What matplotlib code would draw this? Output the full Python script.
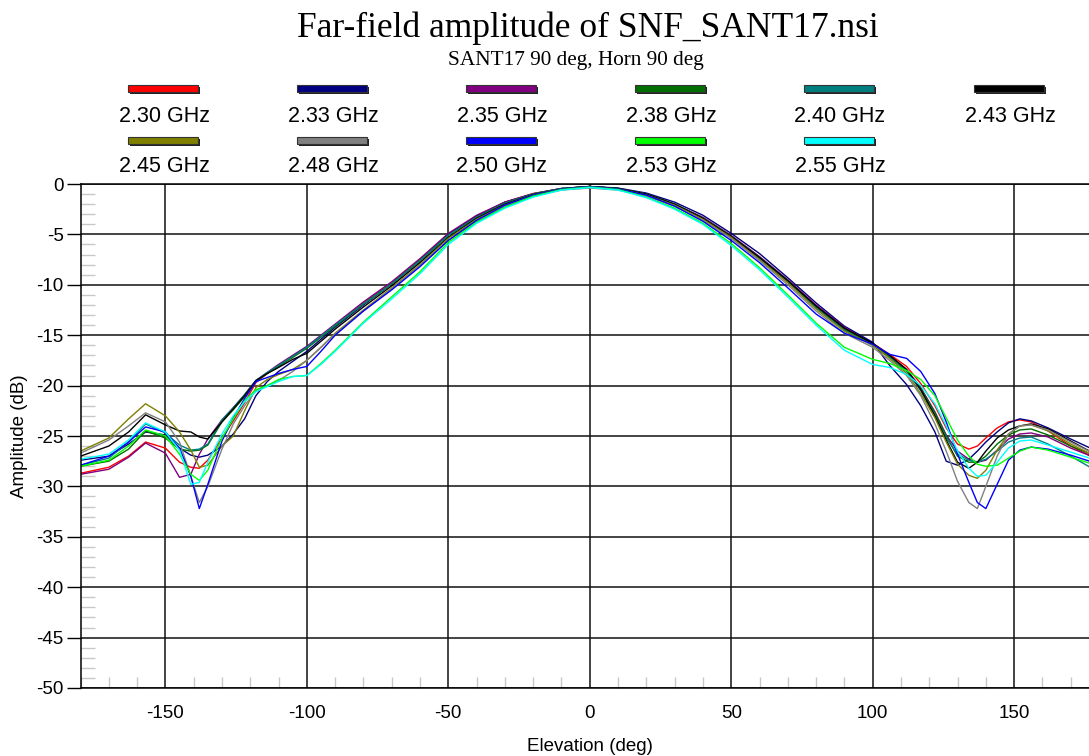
import matplotlib
matplotlib.use("Agg")
import matplotlib.pyplot as plt
from matplotlib.patches import Rectangle
from matplotlib.ticker import MultipleLocator

# elevation samples (deg)
angles = [-180, -170, -163, -157, -150, -145, -141, -138, -135, -130, -126, -122,
          -118, -114, -110, -105, -100, -95, -90, -80, -70, -60, -50, -40, -30,
          -20, -10, 0, 10, 20, 30, 40, 50, 60, 70, 80, 90, 100, 106, 112, 117,
          122, 126, 130, 134, 137, 140, 144, 148, 152, 156, 162, 170, 180]

amp_230 = [-28.7, -28.1, -27.0, -25.6, -26.2, -27.6, -28.1, -28.2, -27.4, -25.2, -23.5, -21.7,
           -19.7, -18.8, -18.0, -17.1, -16.2, -15.1, -14.0, -11.8, -9.8, -7.5, -5.0, -3.2, -1.8,
           -0.95, -0.45, -0.25, -0.45, -1.0, -2.0, -3.4, -5.2, -7.3, -9.6, -12.1, -14.3, -15.8, -16.9, -18.1, -19.8,
           -22.0, -24.2, -25.8, -26.3, -26.0, -25.2, -24.2, -23.6, -23.4, -23.6, -24.5, -26.0, -27.4]
amp_233 = [-27.4, -27.0, -25.8, -24.6, -24.9, -26.2, -26.9, -27.1, -26.9, -26.0, -24.8, -23.3,
           -21.0, -19.6, -18.6, -17.6, -16.6, -15.4, -14.2, -12.0, -9.9, -7.6, -5.0, -3.2, -1.8,
           -1.0, -0.45, -0.25, -0.4, -0.9, -1.8, -3.1, -4.9, -6.9, -9.3, -11.8, -14.1, -15.7, -18.0, -19.9, -22.0,
           -24.6, -27.5, -27.9, -27.3, -26.5, -25.6, -24.6, -23.7, -23.3, -23.5, -24.2, -25.3, -26.6]
amp_235 = [-28.8, -28.3, -27.1, -25.7, -26.7, -29.1, -28.8, -26.8, -25.3, -23.4, -22.2, -20.9,
           -19.5, -18.7, -17.9, -17.0, -16.1, -15.0, -13.9, -11.7, -9.7, -7.4, -4.9, -3.1, -1.8,
           -0.95, -0.45, -0.25, -0.45, -1.0, -2.0, -3.3, -5.1, -7.2, -9.5, -12.0, -14.2, -15.9, -17.0, -18.4, -20.2,
           -22.6, -24.9, -26.5, -27.3, -27.6, -27.4, -26.4, -25.3, -24.8, -24.7, -25.1, -26.2, -27.3]
amp_238 = [-28.0, -27.5, -26.3, -24.5, -25.2, -26.3, -26.5, -26.4, -25.9, -23.6, -22.4, -21.1,
           -19.6, -18.8, -18.1, -17.2, -16.3, -15.2, -14.1, -11.9, -9.9, -7.6, -5.1, -3.3, -1.9,
           -1.0, -0.45, -0.25, -0.45, -1.0, -2.0, -3.4, -5.2, -7.3, -9.6, -12.2, -14.4, -15.9, -17.1, -18.5, -20.3,
           -22.7, -25.0, -27.0, -27.6, -27.6, -27.0, -25.8, -24.9, -24.4, -24.3, -24.9, -26.0, -27.1]
amp_240 = [-27.9, -27.2, -25.6, -23.8, -24.7, -25.9, -26.4, -26.3, -25.8, -23.4, -22.2, -20.9,
           -19.5, -18.7, -18.0, -17.1, -16.2, -15.1, -14.0, -11.9, -9.9, -7.6, -5.1, -3.3, -1.9,
           -1.0, -0.45, -0.25, -0.45, -1.0, -2.0, -3.4, -5.2, -7.4, -9.7, -12.3, -14.5, -16.0, -17.2, -18.6, -20.5,
           -23.0, -25.2, -26.8, -27.4, -27.6, -27.3, -26.5, -25.6, -25.2, -25.1, -25.8, -27.0, -28.6]
amp_243 = [-27.0, -26.0, -24.6, -22.9, -23.9, -24.5, -24.6, -25.1, -25.3, -23.6, -22.3, -21.0,
           -19.5, -18.8, -18.2, -17.4, -16.8, -15.6, -14.4, -12.2, -10.1, -7.8, -5.3, -3.4, -2.0,
           -1.05, -0.5, -0.25, -0.45, -1.0, -2.0, -3.4, -5.2, -7.3, -9.6, -12.1, -14.3, -15.8, -17.0, -18.4, -20.4,
           -23.0, -25.4, -27.6, -28.2, -27.6, -26.5, -25.2, -24.4, -24.0, -23.8, -24.3, -25.5, -27.0]
amp_245 = [-26.5, -25.2, -23.3, -21.8, -23.0, -24.6, -26.4, -28.1, -27.9, -26.0, -25.0, -22.5,
           -20.2, -19.4, -18.9, -18.4, -17.5, -16.2, -14.8, -12.5, -10.3, -8.0, -5.4, -3.5, -2.1,
           -1.1, -0.5, -0.3, -0.5, -1.1, -2.1, -3.5, -5.3, -7.5, -9.8, -12.4, -14.6, -16.0, -17.3, -18.8, -20.8,
           -23.2, -25.6, -27.8, -28.9, -29.2, -28.4, -26.4, -24.8, -24.0, -23.9, -24.5, -25.8, -27.2]
amp_248 = [-26.7, -25.4, -24.0, -22.7, -23.6, -25.6, -29.0, -31.6, -30.0, -26.3, -23.8, -22.0,
           -20.5, -20.0, -19.5, -18.6, -17.5, -16.2, -14.9, -12.6, -10.4, -8.1, -5.6, -3.7, -2.2,
           -1.2, -0.6, -0.4, -0.6, -1.2, -2.2, -3.6, -5.4, -7.6, -10.0, -12.6, -14.8, -16.2, -17.5, -19.0, -21.0,
           -23.8, -26.5, -29.5, -31.6, -32.2, -30.0, -27.0, -24.8, -24.0, -23.9, -24.4, -25.6, -27.0]
amp_250 = [-27.9, -27.0, -25.6, -24.1, -24.6, -26.2, -29.0, -32.2, -29.8, -25.5, -23.2, -21.3,
           -19.6, -19.2, -18.8, -18.4, -18.1, -16.6, -15.0, -12.6, -10.5, -8.2, -5.6, -3.6, -2.1,
           -1.1, -0.5, -0.25, -0.5, -1.1, -2.2, -3.7, -5.6, -7.8, -10.3, -12.9, -14.8, -15.9, -16.9, -17.3, -18.6,
           -20.8, -23.6, -26.8, -29.6, -31.6, -32.2, -29.8, -27.4, -26.4, -26.1, -26.3, -26.9, -27.8]
amp_253 = [-28.0, -27.4, -26.0, -24.4, -25.0, -26.8, -28.8, -29.4, -28.4, -25.2, -23.3, -21.5,
           -20.4, -20.0, -19.4, -19.1, -19.0, -17.8, -16.5, -13.7, -11.2, -8.7, -5.8, -3.8, -2.3,
           -1.2, -0.55, -0.3, -0.55, -1.3, -2.4, -3.9, -5.9, -8.3, -11.0, -13.8, -16.2, -17.4, -17.8, -18.5, -19.4,
           -21.0, -23.2, -25.4, -27.0, -27.8, -28.0, -27.9, -27.2, -26.5, -26.1, -26.4, -27.1, -28.0]
amp_255 = [-27.3, -26.8, -25.4, -23.7, -24.6, -26.4, -29.8, -29.6, -27.6, -24.8, -23.0, -21.6,
           -20.6, -20.1, -19.6, -19.1, -19.0, -17.9, -16.6, -13.8, -11.4, -8.9, -6.0, -3.9, -2.4,
           -1.3, -0.6, -0.35, -0.6, -1.35, -2.5, -4.0, -6.1, -8.5, -11.2, -14.0, -16.5, -17.9, -18.2, -18.9, -20.0,
           -21.8, -24.0, -26.5, -28.2, -29.0, -28.9, -27.6, -26.2, -25.5, -25.4, -25.9, -26.6, -27.5]

freq_labels = ["2.30 GHz", "2.33 GHz", "2.35 GHz", "2.38 GHz", "2.40 GHz", "2.43 GHz",
               "2.45 GHz", "2.48 GHz", "2.50 GHz", "2.53 GHz", "2.55 GHz"]
series = [amp_230, amp_233, amp_235, amp_238, amp_240, amp_243,
          amp_245, amp_248, amp_250, amp_253, amp_255]
colors = ["#ff0000", "#000080", "#800080", "#006f00", "#007f80", "#000000",
          "#808000", "#808080", "#0000ff", "#00ff00", "#00ffff"]


def main():
    W, H = 1089, 756
    fig = plt.figure(figsize=(W / 100, H / 100), dpi=100)
    ax = fig.add_axes([80.5 / W, (H - 688) / H, 1018.5 / W, 504 / H])

    for amp, col in zip(series, colors):
        ax.plot(angles, amp, color=col, lw=1.0)

    ax.set_xlim(-180, 180)
    ax.set_ylim(-50, 0)
    ax.xaxis.set_major_locator(MultipleLocator(50))
    ax.yaxis.set_major_locator(MultipleLocator(5))
    ax.xaxis.set_minor_locator(MultipleLocator(10))
    ax.yaxis.set_minor_locator(MultipleLocator(1))
    ax.grid(True, which="major", color="#111111", lw=1.1)
    ax.tick_params(axis="y", which="major", direction="out", length=10,
                   width=1, color="black", labelsize=13.5, pad=2)
    ax.tick_params(axis="y", which="minor", direction="in", length=10,
                   width=1, color="#c8c8c8")
    ax.tick_params(axis="x", which="major", length=0, labelsize=13.5, pad=12)
    ax.tick_params(axis="x", which="minor", direction="in", length=8,
                   width=1, color="#c8c8c8")
    ax.set_yticks(ax.get_yticks())
    ax.set_xticks(ax.get_xticks())
    ax.set_yticklabels([f"{int(v)}" for v in ax.get_yticks()], family="Liberation Sans")
    ax.set_xticklabels([f"{int(v)}" for v in ax.get_xticks()], family="Liberation Sans")
    ax.set_xlim(-180, 180)
    ax.set_ylim(-50, 0)
    for s in ax.spines.values():
        s.set_color("black")
        s.set_linewidth(1.1)

    ax.set_xlabel("Elevation (deg)", fontsize=13.5, family="Liberation Sans", labelpad=12)
    ax.set_ylabel("Amplitude (dB)", fontsize=13.5, family="Liberation Sans", labelpad=6)

    fig.text(588 / W, 1 - 28 / H, "Far-field amplitude of SNF_SANT17.nsi",
             ha="center", va="center", fontsize=25.5, family="Liberation Serif")
    fig.text(576 / W, 1 - 60 / H, "SANT17 90 deg, Horn 90 deg",
             ha="center", va="center", fontsize=15.3, family="Liberation Serif")

    # legend: six columns, bar above label
    col_x = [164, 333, 502, 671, 840, 1010]
    for i, (lab, col) in enumerate(zip(freq_labels, colors)):
        cx = col_x[i % 6]
        bar_y = 89 if i < 6 else 141
        text_y = 116 if i < 6 else 167
        fig.add_artist(Rectangle(((cx - 34) / W, 1 - (bar_y + 5) / H), 70 / W, 7 / H,
                                 transform=fig.transFigure, facecolor="#222222",
                                 edgecolor="none"))
        fig.add_artist(Rectangle(((cx - 36) / W, 1 - (bar_y + 3) / H), 70 / W, 7 / H,
                                 transform=fig.transFigure, facecolor=col,
                                 edgecolor="#333333", lw=0.8))
        fig.text(cx / W, 1 - text_y / H, lab, ha="center", va="center",
                 fontsize=15.5, family="Liberation Sans")

    fig.savefig("out.png", dpi=100)


if __name__ == "__main__":
    main()
